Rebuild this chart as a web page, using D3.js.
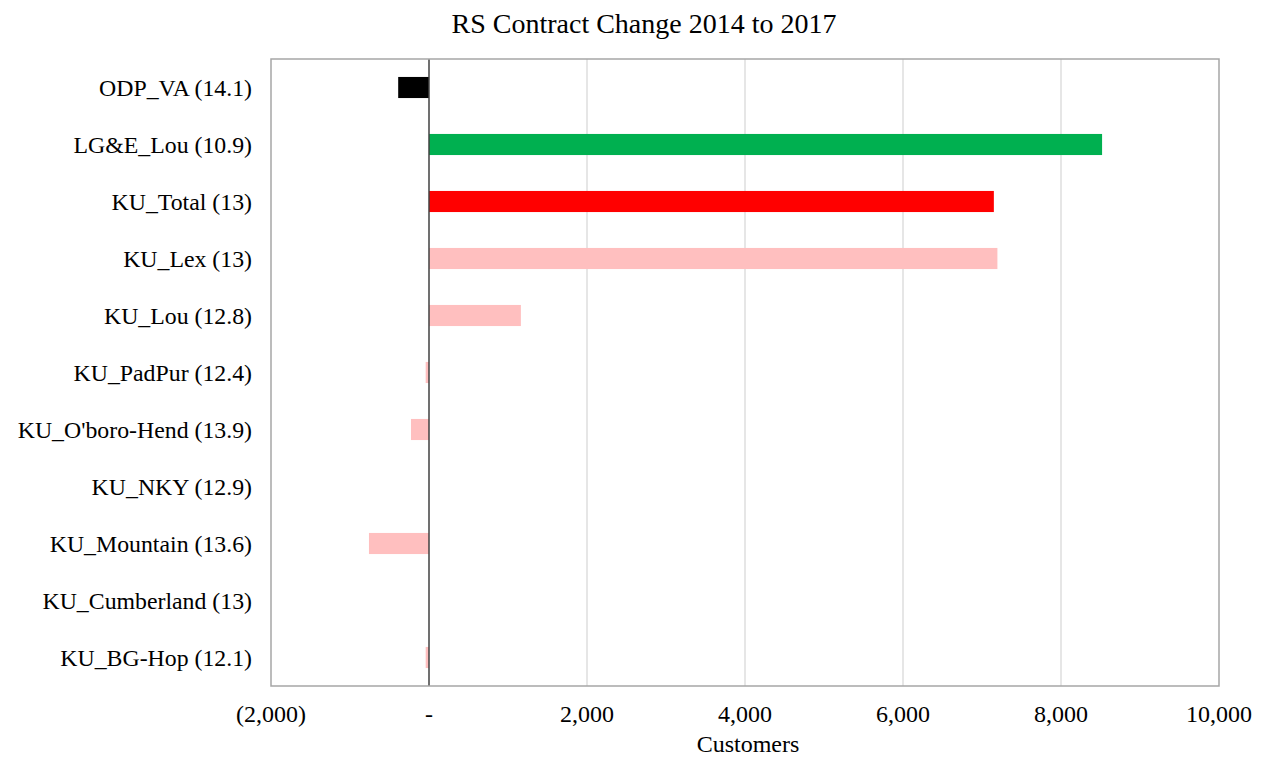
<!DOCTYPE html>
<html>
<head>
<meta charset="utf-8">
<script src="https://cdn.jsdelivr.net/npm/d3@7"></script>
<style>
  body { margin: 0; background: #fff; }
  text { font-family: "Liberation Serif", "Times New Roman", serif; fill: #000; }
</style>
</head>
<body>
<svg width="1262" height="757"></svg>
<script>
// data
const regions = ['ODP_VA (14.1)', 'LG&E_Lou (10.9)', 'KU_Total (13)', 'KU_Lex (13)', 'KU_Lou (12.8)',
  'KU_PadPur (12.4)', "KU_O'boro-Hend (13.9)", 'KU_NKY (12.9)', 'KU_Mountain (13.6)',
  'KU_Cumberland (13)', 'KU_BG-Hop (12.1)']
const changes = [-390, 8520, 7150, 7195, 1163, -42, -228, 0, -760, 0, -42]
const barColors = ['#000000', '#00B050', '#FF0000', '#FFBFBF', '#FFBFBF', '#FFBFBF',
  '#FFBFBF', '#FFBFBF', '#FFBFBF', '#FFBFBF', '#FFBFBF']
const xTicks = [-2000, 0, 2000, 4000, 6000, 8000, 10000]

const svg = d3.select('svg')
const plotLeft = 271, plotRight = 1219, plotTop = 59, plotBottom = 686

const x = d3.scaleLinear().domain([-2000, 10000]).range([plotLeft, plotRight])
const y = d3.scaleBand().domain(regions).range([plotTop, plotBottom]).paddingInner(0.63).paddingOuter(0.315)

// gridlines
svg.append('g')
  .selectAll('line')
  .data(xTicks.filter(d => d !== 0 && d !== -2000 && d !== 10000))
  .enter()
  .append('line')
  .attr('x1', d => x(d)).attr('x2', d => x(d))
  .attr('y1', plotTop).attr('y2', plotBottom)
  .style('stroke', '#d9d9d9').style('stroke-width', 1.3)

// bars
svg.append('g')
  .selectAll('rect')
  .data(changes)
  .enter()
  .append('rect')
  .attr('x', d => x(Math.min(0, d)))
  .attr('y', (d, i) => y(regions[i]))
  .attr('width', d => Math.abs(x(d) - x(0)))
  .attr('height', y.bandwidth())
  .style('fill', (d, i) => barColors[i])

// zero line
svg.append('line')
  .attr('x1', x(0)).attr('x2', x(0))
  .attr('y1', plotTop).attr('y2', plotBottom)
  .style('stroke', '#404040').style('stroke-width', 1.5)

// plot border
svg.append('rect')
  .attr('x', plotLeft).attr('y', plotTop)
  .attr('width', plotRight - plotLeft).attr('height', plotBottom - plotTop)
  .style('fill', 'none').style('stroke', '#a6a6a6').style('stroke-width', 1.5)

// category labels
svg.append('g')
  .selectAll('text')
  .data(regions)
  .enter()
  .append('text')
  .attr('x', 252)
  .attr('y', d => y(d) + y.bandwidth() / 2)
  .attr('dy', '0.35em')
  .attr('text-anchor', 'end')
  .style('font-size', '23.8px')
  .text(d => d)

// x tick labels
const fmt = d3.format(',')
svg.append('g')
  .selectAll('text')
  .data(xTicks)
  .enter()
  .append('text')
  .attr('x', d => x(d))
  .attr('y', 722)
  .attr('text-anchor', 'middle')
  .style('font-size', '24px')
  .text(d => d === 0 ? '-' : d < 0 ? '(' + fmt(-d) + ')' : fmt(d))

svg.append('text')
  .attr('x', 748).attr('y', 752)
  .attr('text-anchor', 'middle')
  .style('font-size', '24px')
  .text('Customers')

svg.append('text')
  .attr('x', 644).attr('y', 33)
  .attr('text-anchor', 'middle')
  .style('font-size', '28px')
  .text('RS Contract Change 2014 to 2017')
</script>
</body>
</html>
